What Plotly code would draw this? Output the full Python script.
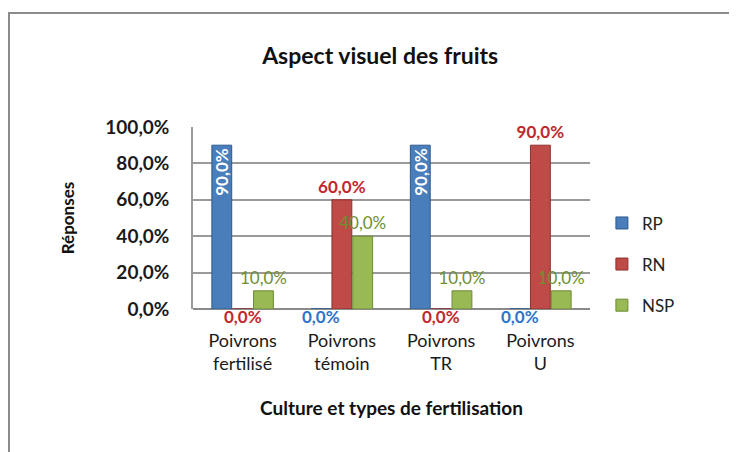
import plotly.graph_objects as go

categories = ["Poivrons<br>fertilisé", "Poivrons<br>témoin", "Poivrons<br>TR", "Poivrons<br>U"]
series_names = ["RP", "RN", "NSP"]
rp = [0.90, 0.0, 0.90, 0.0]
rn = [0.0, 0.60, 0.0, 0.90]
nsp = [0.10, 0.40, 0.10, 0.10]
y_ticks = [0, 0.2, 0.4, 0.6, 0.8, 1.0]

values = [rp, rn, nsp]
bar_colors = ["#4A7EBB", "#BE4B48", "#98B954"]
line_colors = ["#2C5A8F", "#8E2F2D", "#6E8A35"]
label_colors = ["#2E75C9", "#C0282D", "#6F8F2F"]
offsets = [-0.21, 0.0, 0.21]
bar_w = 0.2
FONT = "Lato"

xs = list(range(len(categories)))
fig = go.Figure()
annotations = []
for i, (name, vals) in enumerate(zip(series_names, values)):
    xpos = [x + offsets[i] for x in xs]
    texts = [f"{v*100:.1f}%".replace(".", ",") for v in vals]
    if i == 0:
        pos = ["inside" if v > 0 else "none" for v in vals]
        tfont = dict(family=FONT, size=17, color="white", weight="bold")
    else:
        pos = ["outside" if v > 0 else "none" for v in vals]
        tfont = dict(family=FONT, size=17, color=label_colors[i],
                     weight="bold" if i == 1 else "normal")
    fig.add_trace(go.Bar(
        x=xpos, y=vals, width=bar_w, name=name, legendgroup=name,
        marker=dict(color=bar_colors[i], line=dict(color=line_colors[i], width=1)),
        text=texts, textposition=pos, textangle=-90 if i == 0 else 0,
        insidetextanchor="end", textfont=tfont, cliponaxis=False,
        constraintext="none",
        outsidetextfont=tfont, insidetextfont=tfont,
    ))
    for xp, v, t in zip(xpos, vals, texts):
        if v == 0:
            annotations.append(dict(
                x=xp, y=0, xref="x", yref="y", text=t, showarrow=False,
                yanchor="top", yshift=5,
                font=dict(family=FONT, size=17, color=label_colors[i], weight="bold")))

# outer chart border (paper coordinates derived from margins)
W, H = 737, 452
ml, mr, mt, mb = 185, 155, 119, 151
pw, ph = W - ml - mr, H - mt - mb
bx0 = (1 - ml) / pw
by1 = 1 + (mt - 5) / ph

fig.update_layout(
    width=W, height=H,
    margin=dict(l=ml, r=mr, t=mt, b=mb),
    paper_bgcolor="white", plot_bgcolor="white",
    separators=", ",
    font=dict(family=FONT, color="#1a1a1a"),
    title=dict(text="Aspect visuel des fruits", x=0.505, xanchor="center",
               y=1 - 48 / H, yanchor="middle",
               font=dict(family=FONT, size=23, color="#111111", weight="bold")),
    barmode="overlay",
    showlegend=True,
    legend=dict(x=1.03, y=0.245, xanchor="left", yanchor="middle",
                font=dict(family=FONT, size=17, color="#222222"),
                tracegroupgap=16, itemwidth=30, bgcolor="rgba(0,0,0,0)"),
    xaxis=dict(
        tickvals=xs, ticktext=categories, range=[-0.5, len(categories) - 0.5],
        showgrid=False, zeroline=False, showline=False, ticks="",
        ticklabelstandoff=19,
        tickfont=dict(family=FONT, size=18, color="#1a1a1a"),
        title=dict(text="Culture et types de fertilisation", standoff=28,
                   font=dict(family=FONT, size=19, color="#111111", weight="bold")),
    ),
    yaxis=dict(
        range=[0, 1.0], tickvals=y_ticks, tickformat=".1%",
        showgrid=True, gridcolor="#9a9a9a", gridwidth=1.5,
        zeroline=True, zerolinecolor="#8a8a8a", zerolinewidth=1.5,
        showline=True, linecolor="#9a9a9a", linewidth=1.5,
        ticks="", ticklabelstandoff=18,
        tickfont=dict(family=FONT, size=19, color="#1a1a1a", weight="bold"),
        title=dict(text="Réponses", standoff=26,
                   font=dict(family=FONT, size=17, color="#111111", weight="bold")),
    ),
    annotations=annotations,
    shapes=[dict(type="rect", xref="paper", yref="paper",
                 x0=bx0, x1=1.8, y0=-1.5, y1=by1,
                 line=dict(color="#8c8c8c", width=2), fillcolor="rgba(0,0,0,0)",
                 layer="below")],
)

fig.write_html("out.html")
